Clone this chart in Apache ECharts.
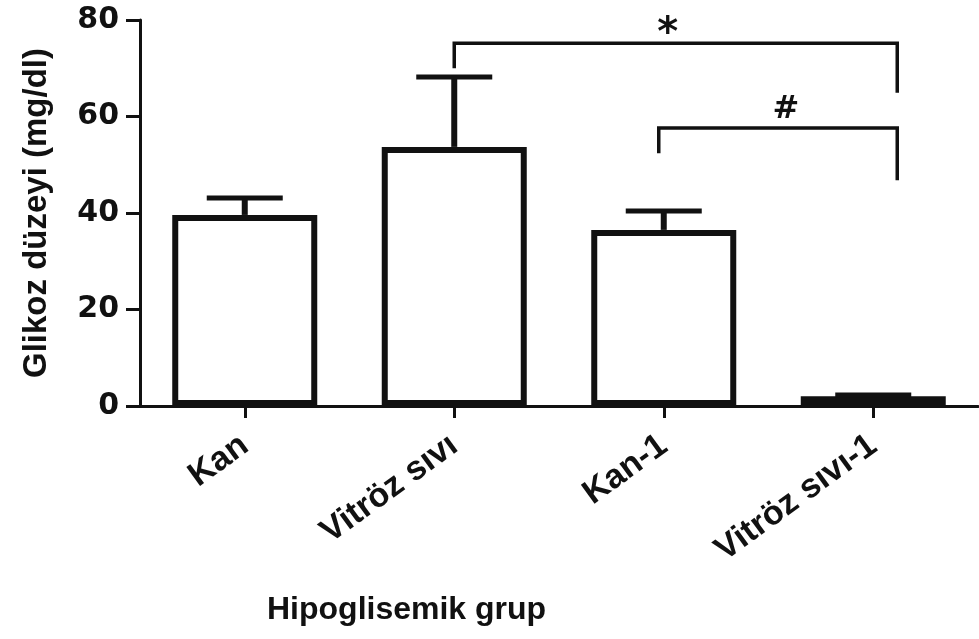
<!DOCTYPE html>
<html><head><meta charset="utf-8">
<script src="https://cdn.jsdelivr.net/npm/echarts@6/dist/echarts.min.js"></script>
<style>html,body{margin:0;padding:0;background:#fff}#c{width:979px;height:639px}</style>
</head><body><div id="c"></div>
<script>
// ---- data ----
const categories = ['Kan', 'Vitröz sıvı', 'Kan-1', 'Vitröz sıvı-1'];
const means = [39.6, 53.7, 36.5, 2.0];
const errors = [3.5, 14.5, 3.9, 0.3];
const yTickValues = [0, 20, 40, 60, 80];
// significance brackets
const bracketFrom = [1, 2];
const bracketTo = [3, 3];
const bracketTop = [75.2, 57.6];
const bracketLeftEnd = [70.0, 52.4];
const bracketRightEnd = [64.9, 46.8];
const bracketLabels = ['*', '#'];
const xAxisTitle = 'Hipoglisemik grup';
const yAxisTitle = 'Glikoz düzeyi (mg/dl)';

const ARIAL = '"Liberation Sans", Arial, sans-serif';
const DEJAVU = '"DejaVu Sans", sans-serif';

const chart = echarts.init(document.getElementById('c'), null, {renderer: 'canvas'});

const errData = categories.map((c, i) => [i, means[i], errors[i]]);
const brData = bracketFrom.map((f, i) => [f, bracketTo[i], bracketTop[i], bracketLeftEnd[i], bracketRightEnd[i], i]);
const leftShift = [0, -5];
const rightShift = 24;
const labelSize = [40, 32];
const labelLift = [9, 18];
const labelShiftX = [-8, 8];

chart.setOption({
  animation: false,
  backgroundColor: '#fff',
  title: {
    text: xAxisTitle, left: 262, top: 589,
    textStyle: {fontFamily: ARIAL, fontWeight: 'bold', fontSize: 32, color: '#111'}
  },
  grid: {left: 140, right: 1, top: 20, bottom: 233, containLabel: false},
  xAxis: {
    type: 'category', data: categories,
    axisLine: {lineStyle: {color: '#111', width: 3}},
    axisTick: {show: true, alignWithLabel: true, length: 12, lineStyle: {color: '#111', width: 3}},
    axisLabel: {rotate: 36, margin: 36, interval: 0, fontFamily: ARIAL, fontWeight: 'bold', fontSize: 34, color: '#111'},
    splitLine: {show: false}
  },
  yAxis: {
    type: 'value', min: yTickValues[0], max: yTickValues[yTickValues.length - 1], interval: 20,
    name: yAxisTitle, nameLocation: 'middle', nameGap: 87, nameRotate: 90,
    nameTextStyle: {fontFamily: ARIAL, fontWeight: 'bold', fontSize: 33, color: '#111'},
    axisLine: {show: true, lineStyle: {color: '#111', width: 3}},
    axisTick: {show: true, length: 14, lineStyle: {color: '#111', width: 3}},
    axisLabel: {margin: 21, fontFamily: DEJAVU, fontWeight: 'bold', fontSize: 30, color: '#111'},
    splitLine: {show: false}
  },
  series: [
    {
      type: 'bar', data: means, barWidth: 145,
      itemStyle: {color: '#fff', borderColor: '#111', borderWidth: 6},
      z: 2
    },
    {
      type: 'custom', data: errData, z: 3,
      renderItem: function (params, api) {
        const x = api.value(0), m = api.value(1), e = api.value(2);
        const p0 = api.coord([x, m]);
        const p1 = api.coord([x, m + e]);
        const hw = 38;
        return {
          type: 'group', children: [
            {type: 'line', shape: {x1: p0[0], y1: p0[1], x2: p1[0], y2: p1[1]}, style: {stroke: '#111', lineWidth: 6}},
            {type: 'line', shape: {x1: p1[0] - hw, y1: p1[1], x2: p1[0] + hw, y2: p1[1]}, style: {stroke: '#111', lineWidth: 5}}
          ]
        };
      }
    },
    {
      type: 'custom', data: brData, z: 4, clip: false,
      renderItem: function (params, api) {
        const f = api.value(0), t = api.value(1), top = api.value(2), le = api.value(3), re = api.value(4), k = api.value(5);
        const a = api.coord([f, top]);
        const b = api.coord([t, top]);
        const lEnd = api.coord([f, le]);
        const rEnd = api.coord([t, re]);
        const xl = a[0] + leftShift[k], xr = b[0] + rightShift;
        return {
          type: 'group', children: [
            {type: 'polyline', shape: {points: [[xl, lEnd[1]], [xl, a[1]], [xr, a[1]], [xr, rEnd[1]]]},
             style: {stroke: '#111', lineWidth: 3.5, fill: null}},
            {type: 'text', style: {text: bracketLabels[k], x: (xl + xr) / 2 + labelShiftX[k], y: a[1] - labelLift[k],
             align: 'center', verticalAlign: 'middle', fontFamily: DEJAVU, fontWeight: 'bold', fontSize: labelSize[k], fill: '#111'}}
          ]
        };
      }
    }
  ]
});
</script>
</body></html>
